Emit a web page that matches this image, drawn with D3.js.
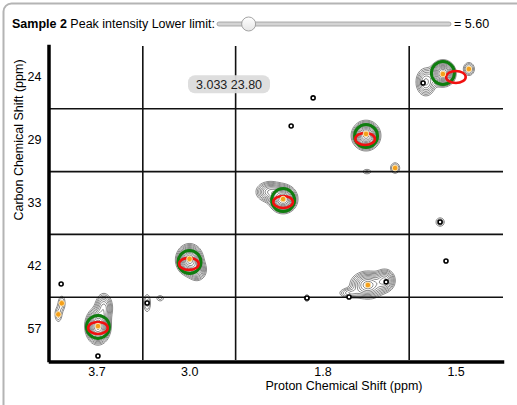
<!DOCTYPE html>
<html>
<head>
<meta charset="utf-8">
<script src="https://cdn.jsdelivr.net/npm/d3@7"></script>
<style>
  body { margin: 0; background: #fff; font-family: "Liberation Sans", Arial, Helvetica, sans-serif; }
</style>
</head>
<body>
<div id="chart"></div>
<script>
// band tick labels (ppm) and relative band widths
const protonTicks = ['3.7', '3.0', '1.8', '1.5'];
const protonWeights = [1, 1, 1.87, 1];
const carbonTicks = ['24', '29', '33', '42', '57'];

const sampleName = 'Sample 2';
const lowerLimit = 5.60;
const sliderDomain = [0, 50];
const hoverPoint = ['3.0', '24', 3.033, 23.80];

// [1H band, 13C band, 1H ppm, 13C ppm, height, 1H sigma, 13C sigma]
const spectrumPeaks = [
  ['1.5', '24', 1.541, 23.81, 1.0, 0.017, 0.26],
  ['1.5', '24', 1.596, 24.22, 0.3, 0.016, 0.33],
  ['1.5', '24', 1.457, 23.60, 0.15, 0.011, 0.19],
  ['1.8', '29', 1.659, 28.78, 1.0, 0.019, 0.29],
  ['1.8', '29', 1.565, 30.33, 0.12, 0.010, 0.17],
  ['1.8', '29', 1.656, 30.50, 0.07, 0.012, 0.10],
  ['1.8', '33', 1.927, 32.81, 1.0, 0.019, 0.28],
  ['1.8', '33', 1.969, 32.47, 0.35, 0.022, 0.24],
  ['3.0', '42', 2.999, 41.72, 1.0, 0.018, 0.31],
  ['3.0', '42', 2.975, 42.20, 0.3, 0.015, 0.25],
  ['3.7', '57', 3.695, 56.88, 1.0, 0.017, 0.36],
  ['3.7', '57', 3.676, 56.00, 0.3, 0.014, 0.34],
  ['3.7', '57', 3.812, 55.79, 0.1, 0.008, 0.25],
  ['3.7', '57', 3.823, 56.32, 0.1, 0.008, 0.25],
  ['1.8', '42', 1.653, 42.92, 0.5, 0.026, 0.30],
  ['1.8', '42', 1.598, 42.70, 0.35, 0.016, 0.26],
  ['1.8', '42', 1.711, 43.30, 0.15, 0.020, 0.14],
  ['3.0', '57', 3.136, 55.78, 0.1, 0.008, 0.30],
  ['3.0', '57', 3.094, 55.55, 0.07, 0.010, 0.12],
  ['1.5', '33', 1.550, 33.91, 0.1, 0.010, 0.15],
  ['1.8', '57', 1.850, 55.54, 0.07, 0.008, 0.15]
];
const contourLevels = [0.04, 0.06, 0.085, 0.12, 0.16, 0.21, 0.27, 0.34, 0.42, 0.52, 0.63, 0.76, 0.9];

// picked peaks above the limit (orange)
const pickedPeaks = [
  ['1.5', '24', 1.541, 23.84], ['1.5', '24', 1.457, 23.60],
  ['1.8', '29', 1.659, 28.70], ['1.8', '29', 1.565, 30.33],
  ['1.8', '33', 1.927, 32.81], ['3.0', '42', 2.999, 41.67],
  ['3.7', '57', 3.695, 56.88], ['3.7', '57', 3.812, 55.79],
  ['3.7', '57', 3.823, 56.32], ['1.8', '42', 1.653, 42.92]
];
// picked peaks below the limit (black)
const weakPeaks = [
  ['1.5', '24', 1.605, 24.27], ['1.8', '24', 1.830, 24.98],
  ['1.8', '29', 1.901, 28.32], ['1.5', '33', 1.550, 33.91],
  ['1.5', '42', 1.531, 41.77], ['1.8', '42', 1.594, 42.77],
  ['1.8', '42', 1.714, 43.49], ['1.8', '57', 1.850, 55.54],
  ['3.0', '57', 3.136, 55.78], ['3.7', '42', 3.814, 42.87],
  ['3.7', '57', 3.695, 58.31]
];
// reference shifts (green) and predicted shifts (red)
const referencePeaks = [
  ['1.5', '24', 1.541, 23.79], ['1.8', '29', 1.659, 28.80],
  ['1.8', '33', 1.927, 32.86], ['3.0', '42', 2.999, 41.82],
  ['3.7', '57', 3.695, 56.92]
];
const predictedPeaks = [
  ['1.5', '24', 1.499, 23.98], ['1.8', '29', 1.662, 28.94],
  ['1.8', '33', 1.927, 32.95], ['3.0', '42', 3.001, 41.91],
  ['3.7', '57', 3.695, 56.97]
];

const width = 517, height = 405;
const plot = { left: 50, right: 502, top: 46, bottom: 360 };
const hSpan = 0.30, cSpan = 3.0;   // ppm per band
const fontSize = 12.5;

const svg = d3.select('#chart').append('svg')
  .attr('width', width)
  .attr('height', height)
  .style('font-family', '"Liberation Sans", Arial, Helvetica, sans-serif');

// panel frame
svg.append('rect')
  .attr('x', 3.5).attr('y', 3.5)
  .attr('width', 600).attr('height', 500)
  .attr('rx', 8)
  .attr('fill', '#fff')
  .attr('stroke', '#b4b4b4')
  .attr('stroke-width', 2);

// header + slider
const header = svg.append('text')
  .attr('x', 12).attr('y', 28)
  .attr('font-size', fontSize);
header.append('tspan').attr('font-weight', 'bold').text(sampleName);
header.append('tspan').text(' Peak intensity Lower limit:');

const sliderX = d3.scaleLinear().domain(sliderDomain).range([224, 444]);
const grad = svg.append('defs').append('linearGradient')
  .attr('id', 'thumb').attr('x1', 0).attr('x2', 0).attr('y1', 0).attr('y2', 1);
grad.append('stop').attr('offset', 0).attr('stop-color', '#ffffff');
grad.append('stop').attr('offset', 1).attr('stop-color', '#e6e6e6');
svg.append('rect')
  .attr('x', 217).attr('y', 22)
  .attr('width', 234).attr('height', 4)
  .attr('rx', 2)
  .attr('fill', '#d4d4d4')
  .attr('stroke', '#9a9a9a')
  .attr('stroke-width', 0.8);
svg.append('circle')
  .attr('cx', sliderX(lowerLimit)).attr('cy', 24)
  .attr('r', 7)
  .attr('fill', 'url(#thumb)')
  .attr('stroke', '#9a9a9a')
  .attr('stroke-width', 0.9);
svg.append('text')
  .attr('x', 454).attr('y', 28)
  .attr('font-size', fontSize)
  .text('= ' + d3.format('.2f')(lowerLimit));

// scales: band position, then a local ppm scale inside each band
const starts = d3.cumsum([0, ...protonWeights]);
const unitX = d3.scaleLinear().domain([0, d3.sum(protonWeights)]).range([plot.left, plot.right]);
const yBand = d3.scaleBand().domain(carbonTicks).range([plot.top, plot.bottom]);

const xLocal = {};
protonTicks.forEach((t, i) => {
  const w = protonWeights[i];
  xLocal[t] = d3.scaleLinear()
    .domain([+t + w * hSpan / 2, +t - w * hSpan / 2])
    .range([unitX(starts[i]), unitX(starts[i + 1])]);
});
const yLocal = {};
carbonTicks.forEach(t => {
  yLocal[t] = d3.scaleLinear()
    .domain([+t - cSpan / 2, +t + cSpan / 2])
    .range([yBand(t), yBand(t) + yBand.bandwidth()]);
});
const px = d => xLocal[d[0]](d[2]);
const py = d => yLocal[d[1]](d[3]);

// contour field on a 1px grid
const n = plot.right - plot.left + 1, m = plot.bottom - plot.top + 1;
const gp = spectrumPeaks.map(d => ({
  x: px(d) - plot.left,
  y: py(d) - plot.top,
  a: d[4],
  sx: Math.abs(xLocal[d[0]](d[2] + d[5]) - px(d)),
  sy: Math.abs(yLocal[d[1]](d[3] + d[6]) - py(d))
}));
const values = new Float64Array(n * m);
for (let j = 0; j < m; j++) {
  for (let i = 0; i < n; i++) {
    let v = 0;
    for (const p of gp) {
      const dx = (i - p.x) / p.sx, dy = (j - p.y) / p.sy;
      const e = dx * dx + dy * dy;
      if (e < 40) v += p.a * Math.exp(-0.5 * e);
    }
    values[j * n + i] = v;
  }
}
const contours = d3.contours().size([n, m]).thresholds(contourLevels)(values);

svg.append('g')
  .attr('class', 'contours')
  .attr('transform', `translate(${plot.left - 0.5},${plot.top - 0.5})`)
  .selectAll('path')
  .data(contours)
  .join('path')
  .attr('d', d3.geoPath())
  .attr('fill', 'none')
  .attr('stroke', '#808080')
  .attr('stroke-width', 0.9);

// grid lines between bands
const grid = svg.append('g').attr('class', 'grid')
  .attr('stroke', '#111').attr('stroke-width', 1.6);
starts.slice(1, -1).forEach(s => {
  grid.append('line')
    .attr('x1', unitX(s)).attr('x2', unitX(s))
    .attr('y1', plot.top).attr('y2', plot.bottom);
});
carbonTicks.slice(1).forEach(t => {
  grid.append('line')
    .attr('x1', plot.left).attr('x2', plot.right + 1)
    .attr('y1', yBand(t)).attr('y2', yBand(t));
});

// markers
svg.append('g').selectAll('circle')
  .data(weakPeaks)
  .join('circle')
  .attr('cx', px).attr('cy', py)
  .attr('r', 2)
  .attr('fill', '#fff')
  .attr('stroke', '#000')
  .attr('stroke-width', 1.6);

svg.append('g').selectAll('circle')
  .data(referencePeaks)
  .join('circle')
  .attr('cx', px).attr('cy', py)
  .attr('r', 11.5)
  .attr('fill', 'none')
  .attr('stroke', '#0f7d0f')
  .attr('stroke-width', 3);

svg.append('g').selectAll('ellipse')
  .data(predictedPeaks)
  .join('ellipse')
  .attr('cx', px).attr('cy', py)
  .attr('rx', 9.8).attr('ry', 6)
  .attr('fill', 'none')
  .attr('stroke', '#f01010')
  .attr('stroke-width', 2.6);

svg.append('g').selectAll('circle')
  .data(pickedPeaks)
  .join('circle')
  .attr('cx', px).attr('cy', py)
  .attr('r', 2.8)
  .attr('fill', '#f5a01a')
  .attr('stroke', '#fde3b0')
  .attr('stroke-width', 1);

// axes
const centers = protonTicks.map((t, i) => (starts[i] + starts[i + 1]) / 2);
const xAxis = d3.axisBottom(unitX)
  .tickValues(centers)
  .tickFormat(d => protonTicks[centers.indexOf(d)])
  .tickSize(0).tickSizeOuter(0).tickPadding(6);
svg.append('g')
  .attr('transform', `translate(0,${plot.bottom + 1.5})`)
  .call(xAxis)
  .call(g => g.attr('font-family', null).attr('font-size', fontSize))
  .call(g => g.select('.domain').attr('stroke', '#000').attr('stroke-width', 3.5).attr('stroke-linecap', 'square'))
  .call(g => g.selectAll('text').attr('fill', '#000'));

const yAxis = d3.axisLeft(yBand).tickSize(0).tickSizeOuter(0).tickPadding(7);
svg.append('g')
  .attr('transform', `translate(${plot.left - 1.5},0)`)
  .call(yAxis)
  .call(g => g.attr('font-family', null).attr('font-size', fontSize))
  .call(g => g.select('.domain').attr('stroke', '#000').attr('stroke-width', 3.5).attr('stroke-linecap', 'square'))
  .call(g => g.selectAll('text').attr('fill', '#000'));

svg.append('text')
  .attr('x', 344).attr('y', 390)
  .attr('text-anchor', 'middle')
  .attr('font-size', fontSize)
  .text('Proton Chemical Shift (ppm)');

svg.append('text')
  .attr('transform', 'translate(23,140) rotate(-90)')
  .attr('text-anchor', 'middle')
  .attr('font-size', fontSize)
  .text('Carbon Chemical Shift (ppm)');

// hover tooltip
const tipX = px(hoverPoint) + 9, tipY = py(hoverPoint) + 2;
svg.append('rect')
  .attr('x', tipX).attr('y', tipY)
  .attr('width', 82).attr('height', 18)
  .attr('rx', 7)
  .attr('fill', '#dcdcdc')
  .attr('opacity', 0.95);
svg.append('text')
  .attr('x', tipX + 8).attr('y', tipY + 14)
  .attr('font-size', fontSize)
  .attr('fill', '#222')
  .text(d3.format('.3f')(hoverPoint[2]) + ' ' + d3.format('.2f')(hoverPoint[3]));
</script>
</body>
</html>
